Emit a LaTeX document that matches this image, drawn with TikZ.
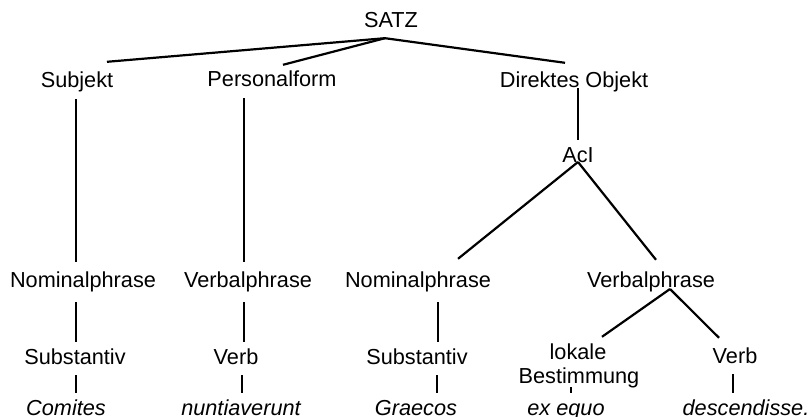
\documentclass[tikz,border=0pt]{standalone}
\usepackage{fontspec}
\setmainfont{Liberation Sans}
\begin{document}
\begin{tikzpicture}[x=1pt,y=-1pt,
  lbl/.style={font=\fontsize{21.7}{26}\selectfont, text height=16pt, text depth=5pt,
              inner xsep=0pt, inner ysep=6pt, anchor=base},
  word/.style={lbl, font=\fontsize{21.7}{26}\selectfont\itshape},
  edge/.style={line width=2.2pt}]
\useasboundingbox (0,0) rectangle (811,417);

% sentence level
\node[lbl] (satz) at (391,28) {SATZ};
\node[lbl] (subj) at (77,88)  {Subjekt};
\node[lbl] (pf)   at (272,87) {Personalform};
\node[lbl] (do)   at (574,88) {Direktes Objekt};
\node[lbl] (aci)  at (578,162) {AcI};

% phrase level
\node[lbl] (np1) at (83,287)  {Nominalphrase};
\node[lbl] (vp1) at (248,287) {Verbalphrase};
\node[lbl] (np2) at (418,287) {Nominalphrase};
\node[lbl] (vp2) at (651,287) {Verbalphrase};

% word classes
\node[lbl] (sb1) at (75,364)  {Substantiv};
\node[lbl] (vb1) at (236,364) {Verb};
\node[lbl] (sb2) at (417,364) {Substantiv};
\node[lbl] (lb1) at (578,359) {lokale};
\node[lbl] (lb2) at (579,383) {Bestimmung};
\node[lbl] (vb2) at (735,363) {Verb};

% Latin words
\node[word] (com) at (66,415)  {Comites};
\node[word] (nun) at (241,415) {nuntiaverunt};
\node[word] (gra) at (416,415) {Graecos};
\node[word] (exe) at (566,415) {ex equo};
\node[word] (des) at (746,415) {descendisse.};

% branches below SATZ
\coordinate (j) at ([xshift=-6pt,yshift=1pt]satz.south);
\draw[edge] (j) -- ([shift={(30pt,4pt)}]subj.north);
\draw[edge] (j) -- ([xshift=11pt]pf.north);
\draw[edge] (j) -- ([shift={(-9pt,3pt)}]do.north);

% long verticals
\draw[edge, shorten >=3pt] ([xshift=-1pt]subj.south) -- ([xshift=-1pt]subj.south |- np1.north);
\draw[edge, shorten <=3pt] ([xshift=-4pt]vp1.north) -- ([xshift=-4pt]vp1.north |- pf.south);
\draw[edge] (aci.north) -- (aci.north |- do.base);

% AcI
\draw[edge] (aci.base) -- ([shift={(40pt,6pt)}]np2.north);
\draw[edge] (aci.base) -- ([shift={(5pt,5pt)}]vp2.north);

% phrase to word class
\draw[edge, shorten >=4pt] ([xshift=1pt]sb1.north) -- ([xshift=1pt]sb1.north |- np1.south);
\draw[edge, shorten <=4pt] ([xshift=-4pt]vp1.south) -- ([xshift=-4pt]vp1.south |- vb1.north);
\draw[edge, shorten <=4pt] ([xshift=20pt]np2.south) -- ([xshift=20pt]np2.south |- sb2.north);
\draw[edge] ([shift={(19pt,-2pt)}]vp2.base) -- ([xshift=24pt]lb1.north);
\draw[edge] ([shift={(19pt,-2pt)}]vp2.base) -- ([shift={(-16pt,3pt)}]vb2.north);

% word class to word
\draw[edge] ([xshift=1pt]sb1.south) -- ([xshift=1pt]sb1.south |- com.north);
\draw[edge] ([xshift=6pt]vb1.south) -- ([xshift=6pt]vb1.south |- nun.north);
\draw[edge] ([xshift=20pt]sb2.south) -- ([xshift=20pt]sb2.south |- gra.north);
\draw[edge, shorten >=4pt] ([shift={(-8pt,-4pt)}]lb2.base) -- ([shift={(-8pt,-4pt)}]lb2.base |- exe.north);
\draw[edge] ([xshift=-2pt]vb2.south) -- ([xshift=-2pt]vb2.south |- des.north);
\end{tikzpicture}
\end{document}
